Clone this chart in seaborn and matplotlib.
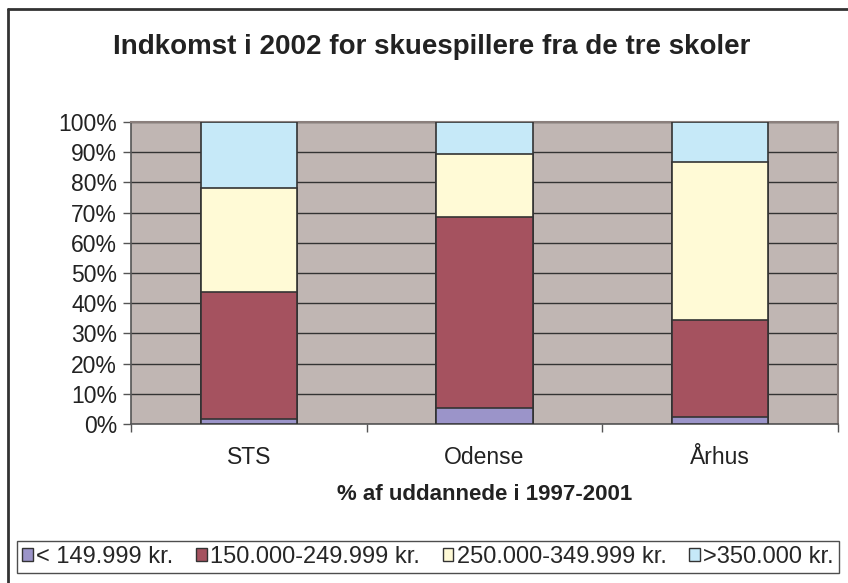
import numpy as np
import pandas as pd
import matplotlib.pyplot as plt
import seaborn as sns
from matplotlib.patches import Patch
from matplotlib.lines import Line2D

# === Data ===
schools = ['STS', 'Odense', 'Århus']
groups = ['< 149.999 kr.', '150.000-249.999 kr.', '250.000-349.999 kr.', '>350.000 kr.']
low = [1.8, 5.2, 2.4]
mid = [41.8, 63.3, 32.0]
high = [34.5, 20.8, 52.5]
top = [21.9, 10.7, 13.1]
colors = ['#9B94C9', '#A5525F', '#FFFAD6', '#C6E9F8']

# === Build cumulative table ===
df = pd.DataFrame({'skole': schools, groups[0]: low, groups[1]: mid,
                   groups[2]: high, groups[3]: top})
cum = df[groups].cumsum(axis=1)

sns.set_style('white')
plt.rcParams['font.family'] = ['Liberation Sans', 'DejaVu Sans']

W, H = 848, 583
fig = plt.figure(figsize=(W / 100, H / 100), dpi=100)
ax = fig.add_axes([131 / W, 1 - 424 / H, 707 / W, 302 / H])
ax.set_facecolor('#C0B6B3')

# draw from top segment down so lower segments sit on top
for g, c in zip(reversed(groups), reversed(colors)):
    sns.barplot(x=df['skole'], y=cum[g], color=c, width=0.41, ax=ax,
                edgecolor='#333333', linewidth=1.2, saturation=1, zorder=3)

ax.set_ylim(0, 100)
ax.set_xlim(-0.5, 2.5)
ax.set_yticks(range(0, 101, 10))
ax.set_yticklabels([f'{v}%' for v in range(0, 101, 10)], fontsize=16.5, color='#222222')
ax.yaxis.grid(True, color='#333333', linewidth=1.0, zorder=1)
ax.set_axisbelow(True)
ax.set_xticks([0, 1, 2])
ax.set_xticklabels(schools, fontsize=16.5, color='#222222')
ax.tick_params(axis='x', length=0, pad=16)
ax.tick_params(axis='y', length=6, width=1, color='#555555', left=True, pad=4)
# minor x ticks between categories
ax.set_xticks([-0.5, 0.5, 1.5, 2.5], minor=True)
ax.tick_params(axis='x', which='minor', length=6, width=1, color='#555555', bottom=True)
ax.set_ylabel('')
ax.set_xlabel('% af uddannede i 1997-2001', fontsize=16, fontweight='bold', labelpad=11,
              color='#222222')
for side in ['top', 'right']:
    ax.spines[side].set_color('#8A7F7C')
    ax.spines[side].set_linewidth(1.5)
for side in ['left', 'bottom']:
    ax.spines[side].set_color('#555555')
    ax.spines[side].set_linewidth(1.2)

fig.text(432 / W, 1 - 47 / H, 'Indkomst i 2002 for skuespillere fra de tre skoler',
         ha='center', va='center', fontsize=20, fontweight='bold', color='#222222')

# legend at the bottom
handles = [Patch(facecolor=c, edgecolor='#333333', linewidth=1) for c in colors]
leg = fig.legend(handles, groups, loc='center', bbox_to_anchor=(428 / W, 1 - 557 / H),
                 ncol=4, frameon=True, fontsize=17, handlelength=0.45, handleheight=0.45,
                 handletextpad=0.15, columnspacing=0.95, borderpad=0.2, borderaxespad=0,
                 fancybox=False)
leg.get_frame().set_edgecolor('#222222')
leg.get_frame().set_linewidth(1.0)

# outer border of the chart (only top and left are inside the crop)
fig.add_artist(Line2D([8 / W, 8 / W], [0, 1 - 9 / H], transform=fig.transFigure,
                      color='#333333', linewidth=2))
fig.add_artist(Line2D([8 / W, 1], [1 - 9 / H, 1 - 9 / H], transform=fig.transFigure,
                      color='#333333', linewidth=2))

fig.savefig('out.png', dpi=100)
